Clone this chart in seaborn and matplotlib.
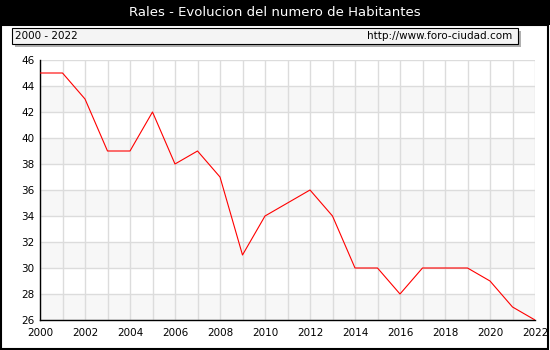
import matplotlib
matplotlib.use("Agg")
import matplotlib.pyplot as plt
import matplotlib.patches as mpatches
import seaborn as sns
import pandas as pd
import numpy as np

years = list(range(2000, 2023))
habitantes = [45, 45, 43, 39, 39, 42, 38, 39, 37, 31, 34, 35, 36, 34, 30, 30, 28, 30, 30, 30, 29, 27, 26]
title = "Rales - Evolucion del numero de Habitantes"
period_label = "2000 - 2022"
url_label = "http://www.foro-ciudad.com"
y_ticks = list(range(26, 47, 2))
x_ticks = list(range(2000, 2023, 2))

df = pd.DataFrame({"year": years, "hab": habitantes})

sns.set_style("white")
plt.rcParams['font.family'] = ['DejaVu Sans']

W, H = 550, 350
fig = plt.figure(figsize=(W/100, H/100), dpi=100)
fig.patch.set_facecolor("white")

# title bar
fig.patches.append(mpatches.Rectangle((0, 1 - 25/H), 1, 25/H, transform=fig.transFigure,
                                      facecolor="black", edgecolor="none", zorder=0))
fig.text(0.5, 1 - 12.5/H, title, color="white", ha="center", va="center", fontsize=9.5)
# outer frame
fig.patches.append(mpatches.Rectangle((1/W, 1/H), (W-3)/W, (H-26)/H, transform=fig.transFigure,
                                      facecolor="none", edgecolor="black", linewidth=1.5, zorder=1))
# info box shadow + box
fig.patches.append(mpatches.Rectangle((15/W, 1 - 47/H), 506/W, 16/H, transform=fig.transFigure,
                                      facecolor="#b0b0b0", edgecolor="none", zorder=1))
fig.patches.append(mpatches.Rectangle((12/W, 1 - 44/H), 506/W, 16/H, transform=fig.transFigure,
                                      facecolor="#f4f4f4", edgecolor="black", linewidth=0.8, zorder=2))
fig.text(15/W, 1 - 36/H, period_label, ha="left", va="center", fontsize=7.5, color="black", zorder=3)
fig.text(512/W, 1 - 36/H, url_label, ha="right", va="center", fontsize=7.5, color="black", zorder=3)

ax = fig.add_axes([40/W, 30/H, 495/W, 260/H])
ax.set_facecolor("white")

# alternating bands
for i, lo in enumerate(range(26, 46, 2)):
    if i % 2 == 0:
        ax.axhspan(lo, lo + 2, facecolor="#f7f7f7", edgecolor="none", zorder=0)

sns.lineplot(data=df, x="year", y="hab", ax=ax, color="red", linewidth=0.8, zorder=3)

ax.set_xlim(2000, 2022)
ax.set_ylim(26, 46)
ax.set_xticks(x_ticks)
ax.set_xticks(years, minor=True)
ax.set_yticks(y_ticks)
ax.set_yticks(list(range(26, 47)), minor=True)
ax.set_xticklabels([str(x) for x in x_ticks], fontsize=7.5, color="black")
ax.set_yticklabels([str(y) for y in y_ticks], fontsize=7.5, color="black")
ax.grid(True, which="major", axis="y", color="#dcdcdc", linewidth=1, zorder=1)
ax.grid(True, which="both", axis="x", color="#dcdcdc", linewidth=1, zorder=1)
ax.set_axisbelow(True)
ax.tick_params(axis="both", which="both", direction="in", color="black", length=4, width=1)
ax.tick_params(axis="x", which="major", pad=6)
ax.tick_params(axis="y", which="major", pad=4)
ax.tick_params(axis="y", which="minor", length=3)
ax.tick_params(axis="x", which="minor", length=4)
for side in ["top", "right"]:
    ax.spines[side].set_visible(False)
for side in ["left", "bottom"]:
    ax.spines[side].set_color("black")
    ax.spines[side].set_linewidth(1)
ax.set_xlabel("")
ax.set_ylabel("")

fig.savefig("out.png", dpi=100)
